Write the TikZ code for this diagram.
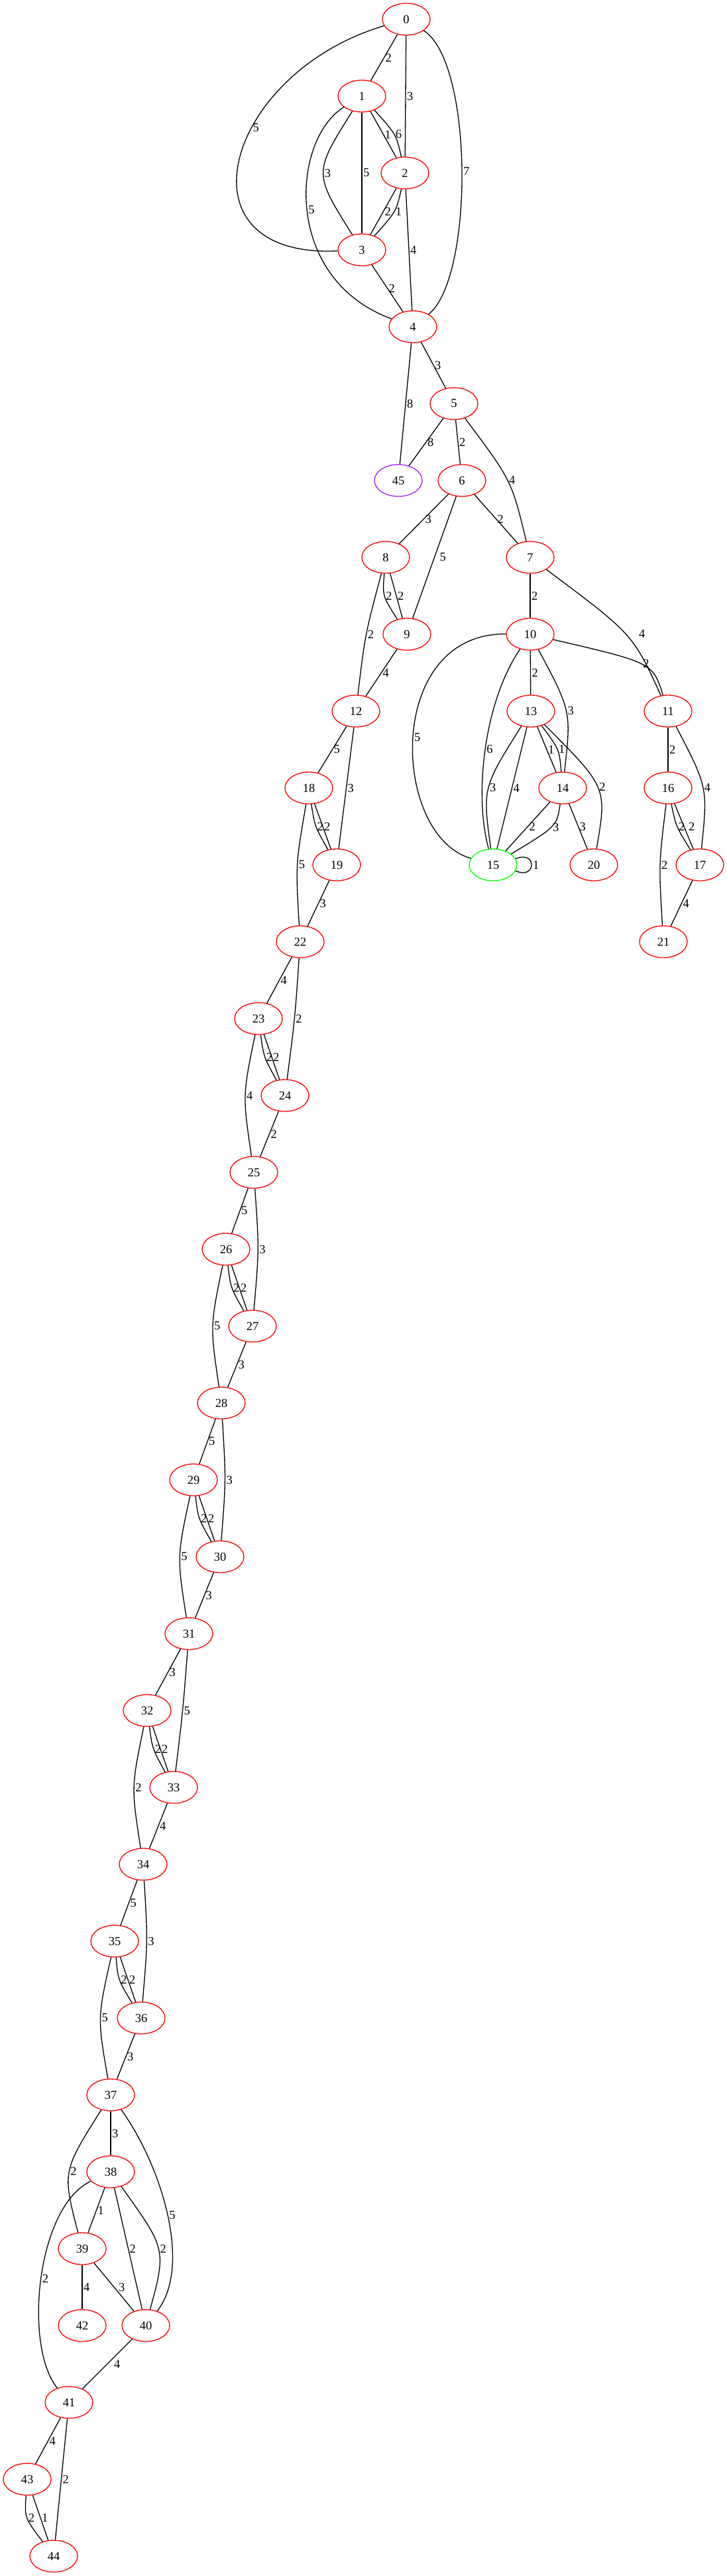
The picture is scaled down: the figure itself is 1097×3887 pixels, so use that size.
\documentclass[tikz,border=0pt]{standalone}
\usepackage{fontspec}
\setmainfont{Liberation Serif}
\usepackage{tikz}
\usepackage{xcolor}
\usetikzlibrary{shapes.geometric}
\definecolor{gvred}{RGB}{255,0,0}
\definecolor{gvgreen}{RGB}{0,255,0}
\definecolor{gvpurple}{RGB}{160,32,240}

\begin{document}
\begin{tikzpicture}[x=1pt, y=-1pt, line width=1.3pt,
  every node/.style={font=\fontsize{18.5}{22}\selectfont},
  vtx/.style={ellipse, draw=gvred, minimum width=72pt, minimum height=48pt, inner sep=0pt},
  lbl/.style={anchor=west, inner sep=1.5pt}]
\useasboundingbox (0,0) rectangle (1097,3887);
% vertices
\node[vtx] (n0) at (613,29) {0};
\node[vtx] (n1) at (546,145) {1};
\node[vtx] (n2) at (611,261) {2};
\node[vtx] (n3) at (546,377) {3};
\node[vtx] (n4) at (623,493) {4};
\node[vtx] (n5) at (685,609) {5};
\node[vtx,draw=gvpurple] (n45) at (601,725) {45};
\node[vtx] (n6) at (697,725) {6};
\node[vtx] (n8) at (582,841) {8};
\node[vtx] (n7) at (800,841) {7};
\node[vtx] (n9) at (614,957) {9};
\node[vtx] (n10) at (800,957) {10};
\node[vtx] (n12) at (537,1073) {12};
\node[vtx] (n13) at (801,1073) {13};
\node[vtx] (n11) at (1008,1073) {11};
\node[vtx] (n18) at (466,1189) {18};
\node[vtx] (n14) at (849,1189) {14};
\node[vtx] (n16) at (1008,1189) {16};
\node[vtx] (n19) at (508,1305) {19};
\node[vtx,draw=gvgreen] (n15) at (744,1305) {15};
\node[vtx] (n20) at (896,1305) {20};
\node[vtx] (n17) at (1056,1305) {17};
\node[vtx] (n22) at (453,1421) {22};
\node[vtx] (n21) at (1001,1421) {21};
\node[vtx] (n23) at (390,1537) {23};
\node[vtx] (n24) at (430,1653) {24};
\node[vtx] (n25) at (383,1769) {25};
\node[vtx] (n26) at (341,1885) {26};
\node[vtx] (n27) at (381,2001) {27};
\node[vtx] (n28) at (334,2117) {28};
\node[vtx] (n29) at (292,2233) {29};
\node[vtx] (n30) at (332,2349) {30};
\node[vtx] (n31) at (285,2465) {31};
\node[vtx] (n32) at (222,2581) {32};
\node[vtx] (n33) at (262,2697) {33};
\node[vtx] (n34) at (216,2813) {34};
\node[vtx] (n35) at (173,2929) {35};
\node[vtx] (n36) at (213,3045) {36};
\node[vtx] (n37) at (167,3161) {37};
\node[vtx] (n38) at (167,3277) {38};
\node[vtx] (n39) at (124,3393) {39};
\node[vtx] (n42) at (124,3509) {42};
\node[vtx] (n40) at (220,3509) {40};
\node[vtx] (n41) at (104,3625) {41};
\node[vtx] (n43) at (41,3741) {43};
\node[vtx] (n44) at (81,3857) {44};
% top block
\draw (n0) -- (n1) node[lbl,midway] {2};
\draw (n0) -- (n2) node[lbl,midway] {3};
\draw (n0) .. controls (340,110) and (260,390) .. (n3) node[lbl,pos=0.4] {5};
\draw (n0) .. controls (715,95) and (715,420) .. (n4) node[lbl,pos=0.5] {7};
\draw (n1) -- (n2) node[lbl,midway] {1};
\draw (n1) .. controls (598,203) .. (n2) node[lbl,pos=0.5] {6};
\draw (n1) .. controls (473,261) .. (n3) node[lbl,pos=0.5] {3};
\draw (n1) -- (n3) node[lbl,midway] {5};
\draw (n1) .. controls (440,210) and (425,420) .. (n4) node[lbl,pos=0.5] {5};
\draw (n2) -- (n3) node[lbl,midway] {2};
\draw (n2) .. controls (598,319) .. (n3) node[lbl,pos=0.5] {1};
\draw (n2) -- (n4) node[lbl,midway] {4};
\draw (n3) -- (n4) node[lbl,midway] {2};
% middle
\draw (n4) -- (n5) node[lbl,midway] {3};
\draw (n4) -- (n45) node[lbl,midway] {8};
\draw (n5) -- (n45) node[lbl,midway] {8};
\draw (n5) -- (n6) node[lbl,midway] {2};
\draw (n5) .. controls (772,725) .. (n7) node[lbl,pos=0.5] {4};
\draw (n6) -- (n8) node[lbl,midway] {3};
\draw (n6) -- (n9) node[lbl,midway,xshift=6pt] {5};
\draw (n6) -- (n7) node[lbl,midway] {2};
\draw (n7) -- (n10) node[lbl,midway] {2};
\draw (n7) .. controls (955,957) .. (n11) node[lbl,pos=0.5,xshift=18pt] {4};
\draw (n8) .. controls (577,899) .. (n9) node[lbl,pos=0.5] {2};
\draw (n8) -- (n9) node[lbl,midway] {2};
\draw (n8) .. controls (551,957) .. (n12) node[lbl,pos=0.5] {2};
\draw (n9) -- (n12) node[lbl,midway] {4};
\draw (n10) -- (n13) node[lbl,midway] {2};
\draw (n10) .. controls (985,1000) .. (n11) node[lbl,pos=0.5] {2};
\draw (n10) .. controls (580,955) and (590,1260) .. (n15) node[lbl,pos=0.5] {5};
\draw (n10) .. controls (730,1060) and (715,1200) .. (n15) node[lbl,pos=0.5] {6};
\draw (n10) .. controls (862,1073) .. (n14) node[lbl,pos=0.5] {3};
\draw (n11) -- (n16) node[lbl,midway] {2};
\draw (n11) .. controls (1068,1188) .. (n17) node[lbl,pos=0.5] {4};
\draw (n12) -- (n18) node[lbl,midway] {5};
\draw (n12) -- (n19) node[lbl,midway] {3};
\draw (n13) -- (n14) node[lbl,midway] {1};
\draw (n13) .. controls (844,1131) .. (n14) node[lbl,pos=0.5] {1};
\draw (n13) .. controls (728,1189) .. (n15) node[lbl,pos=0.5] {3};
\draw (n13) -- (n15) node[lbl,midway] {4};
\draw (n13) .. controls (916,1188) .. (n20) node[lbl,pos=0.5] {2};
\draw (n14) -- (n15) node[lbl,midway] {2};
\draw (n14) .. controls (840,1247) .. (n15) node[lbl,pos=0.5] {3};
\draw (n14) -- (n20) node[lbl,midway] {3};
\draw (n15.15) .. controls +(32,-14) and +(32,14) .. (n15.-15) node[lbl,pos=0.5] {1};
\draw (n16) .. controls (1020,1247) .. (n17) node[lbl,pos=0.5] {2};
\draw (n16) -- (n17) node[lbl,midway,xshift=5pt] {2};
\draw (n16) .. controls (994,1305) .. (n21) node[lbl,pos=0.5] {2};
\draw (n17) -- (n21) node[lbl,midway] {4};
\draw (n18) .. controls (475,1247) .. (n19) node[lbl,pos=0.5] {2};
\draw (n18) -- (n19) node[lbl,midway] {2};
\draw (n18) .. controls (446,1305) .. (n22) node[lbl,pos=0.5] {5};
\draw (n19) -- (n22) node[lbl,midway] {3};
% chain
\draw (n22) -- (n23) node[lbl,midway] {4};
\draw (n22) .. controls (445,1537) .. (n24) node[lbl,pos=0.5] {2};
\draw (n23) .. controls (398,1595) .. (n24) node[lbl,pos=0.5] {2};
\draw (n23) -- (n24) node[lbl,midway] {2};
\draw (n23) .. controls (366,1653) .. (n25) node[lbl,pos=0.5] {4};
\draw (n24) -- (n25) node[lbl,midway] {2};
\draw (n25) -- (n26) node[lbl,midway] {5};
\draw (n25) .. controls (391,1885) .. (n27) node[lbl,pos=0.5] {3};
\draw (n26) .. controls (348,1943) .. (n27) node[lbl,pos=0.5] {2};
\draw (n26) -- (n27) node[lbl,midway] {2};
\draw (n26) .. controls (317,2001) .. (n28) node[lbl,pos=0.5] {5};
\draw (n27) -- (n28) node[lbl,midway] {3};
\draw (n28) -- (n29) node[lbl,midway] {5};
\draw (n28) .. controls (341,2233) .. (n30) node[lbl,pos=0.5] {3};
\draw (n29) .. controls (299,2291) .. (n30) node[lbl,pos=0.5] {2};
\draw (n29) -- (n30) node[lbl,midway] {2};
\draw (n29) .. controls (267,2349) .. (n31) node[lbl,pos=0.5] {5};
\draw (n30) -- (n31) node[lbl,midway] {3};
\draw (n31) -- (n32) node[lbl,midway] {3};
\draw (n31) .. controls (276,2581) .. (n33) node[lbl,pos=0.5] {5};
\draw (n32) .. controls (230,2639) .. (n33) node[lbl,pos=0.5] {2};
\draw (n32) -- (n33) node[lbl,midway] {2};
\draw (n32) .. controls (198,2697) .. (n34) node[lbl,pos=0.5] {2};
\draw (n33) -- (n34) node[lbl,midway] {4};
\draw (n34) -- (n35) node[lbl,midway] {5};
\draw (n34) .. controls (223,2929) .. (n36) node[lbl,pos=0.5] {3};
\draw (n35) .. controls (178,2987) .. (n36) node[lbl,pos=0.5] {2};
\draw (n35) -- (n36) node[lbl,midway] {2};
\draw (n35) .. controls (147,3045) .. (n37) node[lbl,pos=0.5] {5};
\draw (n36) -- (n37) node[lbl,midway] {3};
% bottom block
\draw (n37) -- (n38) node[lbl,midway] {3};
\draw (n37) .. controls (94,3277) .. (n39) node[lbl,pos=0.5] {2};
\draw (n37) .. controls (245,3270) and (290,3420) .. (n40) node[lbl,pos=0.5] {5};
\draw (n38) -- (n39) node[lbl,midway] {1};
\draw (n38) -- (n40) node[lbl,midway] {2};
\draw (n38) .. controls (251,3394) .. (n40) node[lbl,pos=0.5] {2};
\draw (n38) .. controls (55,3330) and (35,3540) .. (n41) node[lbl,pos=0.5] {2};
\draw (n39) -- (n42) node[lbl,midway] {4};
\draw (n39) -- (n40) node[lbl,midway,xshift=5pt] {3};
\draw (n40) -- (n41) node[lbl,midway,xshift=8pt] {4};
\draw (n41) -- (n43) node[lbl,midway] {4};
\draw (n41) -- (n44) node[lbl,midway] {2};
\draw (n43) .. controls (37,3799) .. (n44) node[lbl,pos=0.5] {2};
\draw (n43) -- (n44) node[lbl,midway] {1};
\end{tikzpicture}
\end{document}
